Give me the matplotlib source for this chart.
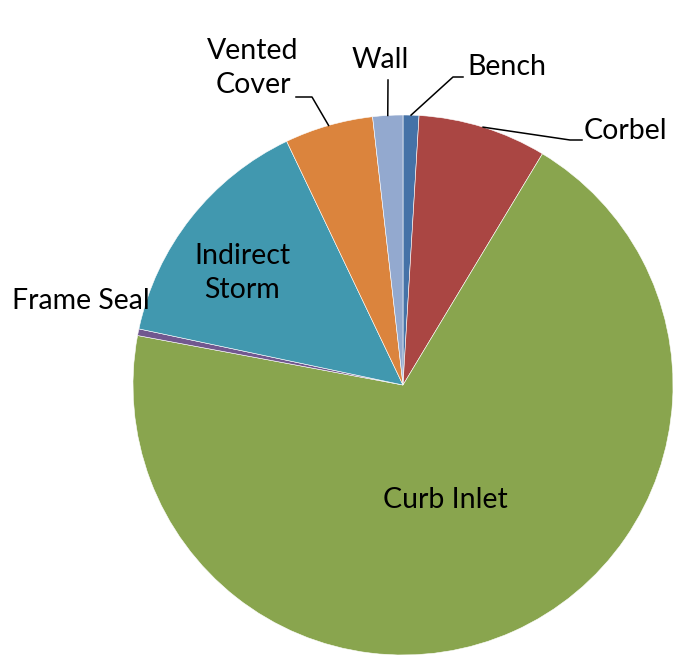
import numpy as np
import matplotlib.pyplot as plt

# slices, clockwise from 12 o'clock
labels = ['Bench', 'Corbel', 'Curb Inlet', 'Frame Seal', 'Indirect Storm', 'Vented Cover', 'Wall']
values = [0.95, 7.7, 69.4, 0.4, 14.6, 5.3, 1.8]
colors = ['#4572A7', '#AA4643', '#89A54E', '#71588F', '#4198AF', '#DB843D', '#93A9CF']

plt.rcParams['font.family'] = ['Lato', 'DejaVu Sans']

W, H = 673, 658
cx, cy, R = 403, 385, 270

fig = plt.figure(figsize=(W / 100, H / 100), dpi=100)
ax = fig.add_axes([0, 0, 1, 1])

wedges, _ = ax.pie(values, colors=colors, startangle=90, counterclock=False,
                   radius=1, wedgeprops=dict(linewidth=0.4, edgecolor='white'))
ax.set_aspect('auto')
ax.set_xlim(-cx / R, (W - cx) / R)
ax.set_ylim(-(H - cy) / R, cy / R)
ax.axis('off')


def px(x, y):
    return ((x - cx) / R, (cy - y) / R)


def anchor(w):
    a = np.deg2rad((w.theta1 + w.theta2) / 2)
    return (np.cos(a), np.sin(a))


fs = 20.5
ls = 1.35
# labels inside
ax.text(*px(242, 273), 'Indirect\nStorm', ha='center', va='center', fontsize=fs, linespacing=ls)
ax.text(*px(445, 500), 'Curb Inlet', ha='center', va='center', fontsize=fs)

# outside labels with leader lines: (elbow, end) in pixels, text pos, align
outside = {
    'Bench': ([(453, 77), (463, 77)], (467, 67), 'left'),
    'Wall': ([(388, 80)], (380, 60), 'center'),
    'Vented Cover': ([(312, 97), (296, 97)], (253, 68), 'center'),
    'Corbel': ([(570, 140), (582, 140)], (584, 131), 'left'),
}
for name, (pts, tpos, ha) in outside.items():
    w = wedges[labels.index(name)]
    xs = [anchor(w)[0]] + [px(*p)[0] for p in pts]
    ys = [anchor(w)[1]] + [px(*p)[1] for p in pts]
    ax.plot(xs, ys, color='black', lw=1.1)
    txt = 'Vented\nCover' if name == 'Vented Cover' else name
    ax.text(*px(*tpos), txt, ha=ha, va='center', fontsize=fs, linespacing=ls)

ax.text(*px(150, 301), 'Frame Seal', ha='right', va='center', fontsize=fs)

fig.savefig('out.png', dpi=100)
